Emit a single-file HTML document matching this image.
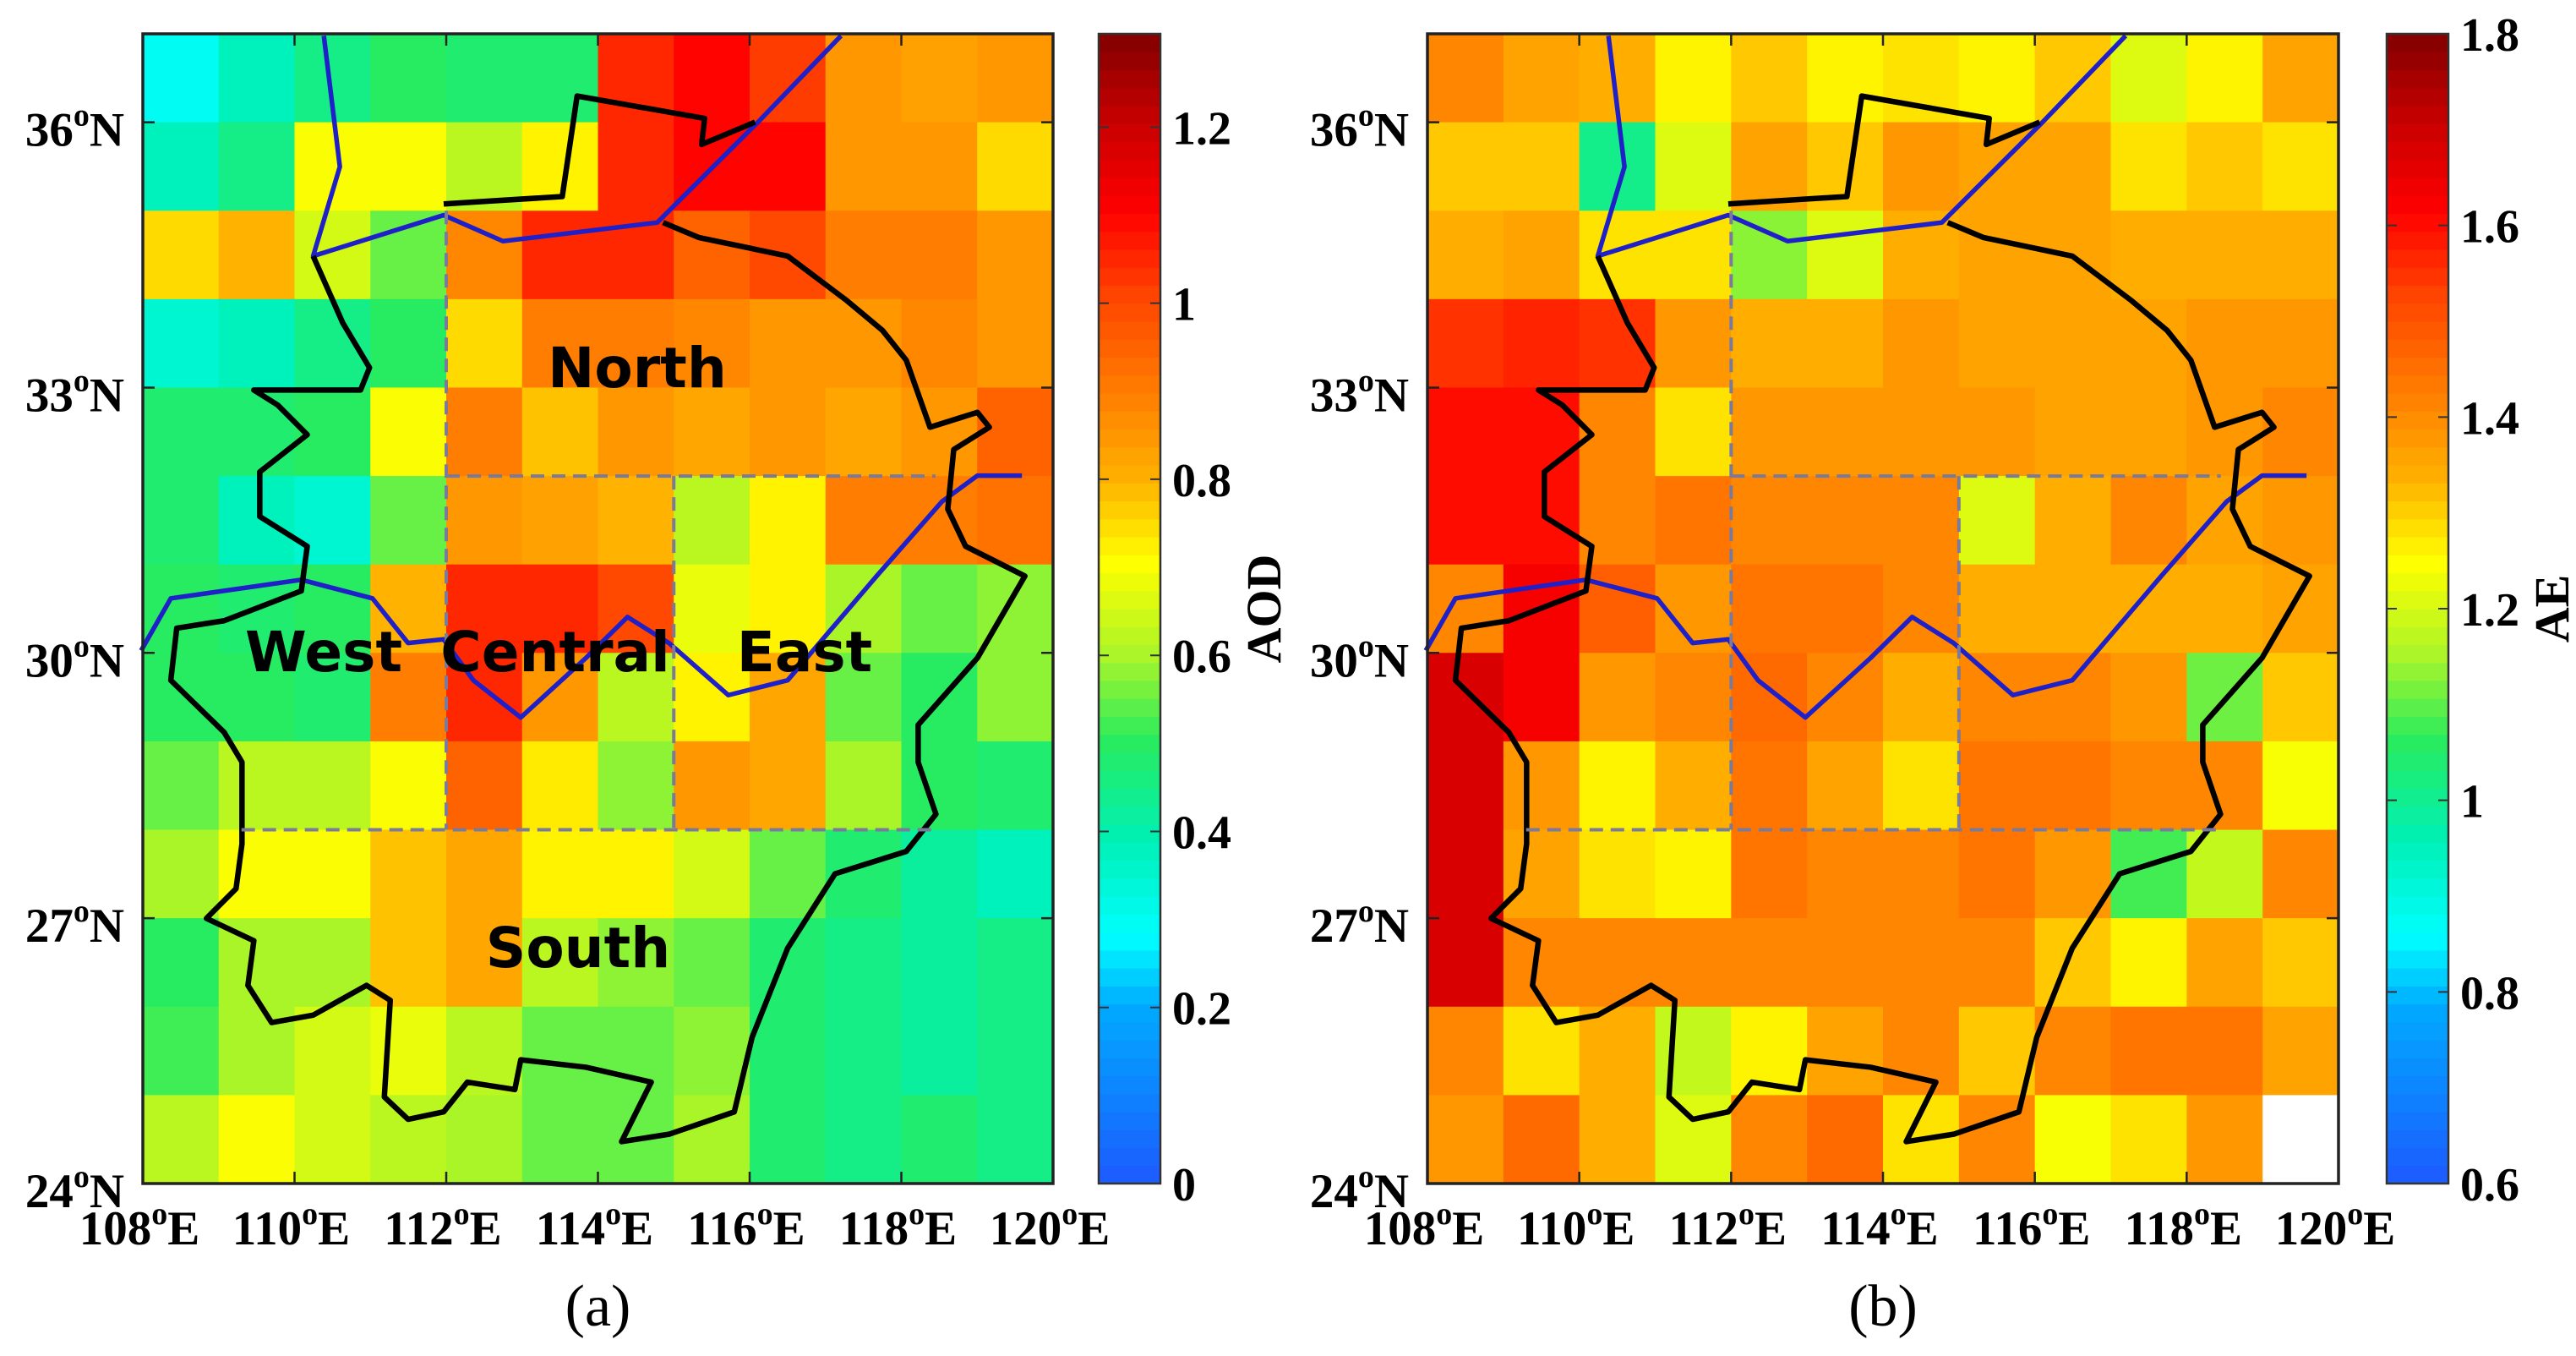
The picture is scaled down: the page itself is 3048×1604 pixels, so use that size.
<!DOCTYPE html>
<html><head><meta charset="utf-8"><style>
html,body{margin:0;padding:0;background:#fff;width:3048px;height:1604px;overflow:hidden}
svg{display:block}
</style></head><body>
<svg id="fig" width="3048" height="1604" viewBox="0 0 3048 1604" xmlns="http://www.w3.org/2000/svg"></svg>
<script>
// ---- data ----
const lons = [108,109,110,111,112,113,114,115,116,117,118,119];
const latsTop = [37,36,35,34,33,32,31,30,29,28,27,26,25];
const xTicks = [108,110,112,114,116,118,120];
const yTicks = [36,33,30,27,24];
const aodTicks = [0,0.2,0.4,0.6,0.8,1,1.2];
const aeTicks = [0.6,0.8,1,1.2,1.4,1.6,1.8];
const aodRange = [0,1.306];
const aeRange = [0.6,1.8];
const aodValues = [
[.30,.38,.45,.50,.48,.48,1.05,1.1,1.02,.85,.83,.85],
[.38,.45,.70,.70,.62,.72,1.05,1.1,1.1,.85,.85,.75],
[.75,.80,.65,.55,.88,1.05,1.05,.95,1.0,.9,.9,.85],
[.35,.38,.45,.50,.75,.90,.90,.88,.85,.85,.88,.85],
[.48,.48,.50,.70,.90,.78,.85,.82,.85,.82,.85,.95],
[.48,.38,.35,.55,.85,.83,.80,.62,.72,.90,.90,.92],
[.50,.48,.50,.80,1.05,1.05,1.0,.68,.72,.60,.55,.58],
[.50,.50,.48,.90,1.05,.85,.62,.72,.82,.55,.50,.58],
[.55,.62,.62,.70,.95,.73,.58,.85,.82,.60,.50,.48],
[.60,.70,.70,.78,.82,.72,.72,.65,.55,.48,.42,.38],
[.50,.60,.60,.78,.82,.62,.58,.55,.48,.45,.42,.45],
[.52,.60,.65,.68,.62,.55,.55,.58,.48,.45,.42,.45],
[.62,.70,.65,.62,.60,.55,.55,.60,.48,.45,.48,.45]];
const aeValues = [
[1.41,1.36,1.34,1.26,1.31,1.26,1.28,1.26,1.31,1.21,1.26,1.36],
[1.31,1.31,1.01,1.21,1.36,1.31,1.38,1.36,1.36,1.28,1.31,1.28],
[1.34,1.36,1.28,1.28,1.13,1.21,1.34,1.36,1.36,1.34,1.34,1.34],
[1.55,1.57,1.55,1.38,1.34,1.34,1.38,1.36,1.36,1.36,1.38,1.38],
[1.60,1.60,1.41,1.28,1.38,1.38,1.38,1.38,1.36,1.36,1.38,1.41],
[1.60,1.60,1.41,1.44,1.41,1.41,1.41,1.21,1.34,1.41,1.36,1.38],
[1.41,1.63,1.48,1.38,1.44,1.44,1.41,1.34,1.34,1.34,1.34,1.36],
[1.68,1.63,1.38,1.41,1.46,1.41,1.34,1.41,1.41,1.38,1.11,1.31],
[1.68,1.38,1.26,1.34,1.44,1.36,1.28,1.44,1.44,1.41,1.41,1.24],
[1.68,1.36,1.28,1.26,1.44,1.41,1.41,1.44,1.38,1.08,1.18,1.41],
[1.68,1.41,1.41,1.41,1.41,1.41,1.41,1.41,1.31,1.26,1.36,1.31],
[1.41,1.28,1.34,1.18,1.26,1.36,1.41,1.31,1.41,1.44,1.44,1.36],
[1.38,1.46,1.34,1.21,1.41,1.46,1.28,1.41,1.24,1.28,1.38,null]];

const NS='http://www.w3.org/2000/svg';
const svg=document.getElementById('fig');
function mk(tag,attrs,parent){const e=document.createElementNS(NS,tag);for(const k in attrs)e.setAttribute(k,attrs[k]);(parent||svg).appendChild(e);return e;}
const cmapF=[0,0.154,0.215,0.3,0.385,0.46,0.54,0.615,0.77,0.846,0.923,1];
const cmapC=[[30,90,255],[0,170,255],[0,255,255],[0,240,180],[40,235,95],[170,245,40],[255,255,0],[255,175,0],[255,70,0],[255,0,0],[200,0,0],[130,0,0]];
function cmap(f){f=Math.max(0,Math.min(1,f));
  for(let i=0;i<cmapF.length-1;i++){if(f<=cmapF[i+1]){const t=(f-cmapF[i])/(cmapF[i+1]-cmapF[i]);const a=cmapC[i],b=cmapC[i+1];return `rgb(${Math.round(a[0]+(b[0]-a[0])*t)},${Math.round(a[1]+(b[1]-a[1])*t)},${Math.round(a[2]+(b[2]-a[2])*t)})`;}}
  return 'rgb(130,0,0)';}

const PY0=40, PY1=1400, LAT0=24, LATSPAN=13;
function yOf(lat){return PY1-(lat-LAT0)*(PY1-PY0)/LATSPAN;}
const SER='"Liberation Serif", serif';

const boundary="M300,310 L350,400 L395,460 L380,490 L200,490 L240,510 L290,550 L210,600 L210,660 L290,700 L280,760 L150,800 L70,810 L60,880 L150,950 L180,990 L180,1100 L170,1160 L120,1200 L200,1230 L190,1290 L230,1340 L300,1330 L390,1290 L430,1310 L420,1440 L460,1470 L520,1460 L560,1420 L640,1430 L650,1390 L760,1400 L870,1420 L820,1500 L900,1490 L1010,1460 L1040,1360 L1100,1240 L1180,1140 L1300,1110 L1350,1060 L1320,990 L1320,940 L1420,850 L1500,740 L1400,700 L1370,650 L1380,570 L1440,540 L1420,520 L1340,540 L1300,450 L1260,410 L1200,370 L1100,310 L950,285 L890,265 M520,240 L720,230 L745,95 L960,125 L955,160 L1045,130";
const yellowRiver="M318,14 L345,190 L300,310 L520,255 L620,290 L880,265 L1050,130 L1190,14";
const yangtze="M10,840 L60,770 L280,745 L400,770 L460,830 L520,825 L570,880 L650,930 L760,850 L830,795 L900,830 L1000,900 L1100,880 L1250,740 L1360,640 L1420,605 L1495,605";

function panel(opts){
  const {x0,x1,values,range,ticks,cbX,label,caption,name,regions}=opts;
  const g=mk('g',{});
  
  
  const xOf=lon=>x0+(lon-108)*(x1-x0)/12;
  for(let r=0;r<values.length;r++)for(let c=0;c<values[r].length;c++){
    const v=values[r][c];
    const top=r===0?PY0:yOf(latsTop[r]);
    const rect=mk('rect',{x:xOf(lons[c]),y:top,width:xOf(lons[c]+1)-xOf(lons[c])+0.6,height:yOf(latsTop[r]-1)-top+0.6,fill:v==null?'#fff':cmap((v-range[0])/(range[1]-range[0]))},g);
    
    
  }
  const geo=mk('g',{transform:`translate(${x0-9},30) scale(0.7018,0.8803)`},g);
  
  
  const rv1=mk('path',{d:yellowRiver,fill:'none',stroke:'#2020c8','stroke-width':5.5,'stroke-linejoin':'round','vector-effect':'non-scaling-stroke'},geo);
  
  
  const rv2=mk('path',{d:yangtze,fill:'none',stroke:'#2020c8','stroke-width':5.5,'stroke-linejoin':'round','vector-effect':'non-scaling-stroke'},geo);
  
  
  const bd=mk('path',{d:boundary,fill:'none',stroke:'#000','stroke-width':6.5,'stroke-linejoin':'round','vector-effect':'non-scaling-stroke'},geo);
  
  
  const dash={fill:'none',stroke:'#7a7a9a','stroke-width':4,'stroke-dasharray':'16 9'};
  const dl=mk('path',Object.assign({d:`M${xOf(112)},${yOf(35)} L${xOf(112)},${yOf(28)} M${xOf(112)},${yOf(32)} L${xOf(118.45)},${yOf(32)} M${xOf(115)},${yOf(32)} L${xOf(115)},${yOf(28)} M${xOf(109.3)},${yOf(28)} L${xOf(118.45)},${yOf(28)}`},dash),g);
  
  
  if(regions){
    const regs=[['North',754,432],['West',383,768],['Central',657,768],['East',952,768],['South',684,1118]];
    regs.forEach(([t,x,y])=>{
      const tx=mk('text',{x:x,y:y+26,'text-anchor':'middle','font-family':'"DejaVu Sans", "Liberation Sans", sans-serif','font-weight':'bold','font-size':66},g);
      tx.textContent=t;
      
      
    });
  }
  const fr=mk('rect',{x:x0,y:PY0,width:x1-x0,height:PY1-PY0,fill:'none',stroke:'#222','stroke-width':3.5},g);
  
  
  let td='';
  xTicks.forEach(t=>{const x=xOf(t);td+=`M${x},${PY1} L${x},${PY1-14} M${x},${PY0} L${x},${PY0+14} `;});
  yTicks.forEach(t=>{const y=yOf(t);td+=`M${x0},${y} L${x0+14},${y} M${x1},${y} L${x1-14},${y} `;});
  const tk=mk('path',{d:td,stroke:'#222','stroke-width':2.5},g);
  
  
  xTicks.forEach(t=>{
    const tx=mk('text',{x:xOf(t)-4,y:1472,'text-anchor':'middle','font-family':SER,'font-weight':'bold','font-size':57},g);
    tx.innerHTML=`${t}<tspan font-size="38" dy="-24">o</tspan><tspan dy="24">E</tspan>`;
    
    
  });
  yTicks.forEach(t=>{
    const tx=mk('text',{x:x0-22,y:yOf(t)+28,'text-anchor':'end','font-family':SER,'font-weight':'bold','font-size':57},g);
    tx.innerHTML=`${t}<tspan font-size="38" dy="-24">o</tspan><tspan dy="24">N</tspan>`;
    
    
  });
  const cbW=73, N=64;
  const cb=mk('g',{},g);
  
  
  for(let i=0;i<N;i++){
    const h=(PY1-PY0)/N;
    mk('rect',{x:cbX,y:PY1-(i+1)*h,width:cbW,height:h+0.6,fill:cmap((i+0.5)/N)},cb);
  }
  mk('rect',{x:cbX,y:PY0,width:cbW,height:PY1-PY0,fill:'none',stroke:'#333','stroke-width':2.5},cb);
  const cy=v=>PY1-(v-range[0])/(range[1]-range[0])*(PY1-PY0);
  ticks.forEach(t=>{
    const y=cy(t);
    mk('path',{d:`M${cbX},${y} L${cbX+12},${y} M${cbX+cbW},${y} L${cbX+cbW-12},${y}`,stroke:'#333','stroke-width':2},cb);
    const tx=mk('text',{x:cbX+cbW+14,y:y+20,'font-family':SER,'font-weight':'bold','font-size':56},cb);
    tx.textContent=String(t);
    
    
  });
  const lb=mk('text',{x:0,y:0,transform:`translate(${cbX+cbW+142},${(PY0+PY1)/2}) rotate(-90)`,'text-anchor':'middle','font-family':SER,'font-weight':'bold','font-size':58},g);
  lb.textContent=label;
  
  
  const cp=mk('text',{x:(x0+x1)/2,y:1568,'text-anchor':'middle','font-family':SER,'font-size':70},g);
  cp.textContent=caption;
  
  
}
panel({x0:169,x1:1246,values:aodValues,range:aodRange,ticks:aodTicks,cbX:1300,label:'AOD',caption:'(a)',name:'panel-a-aod',regions:true});
panel({x0:1689,x1:2767,values:aeValues,range:aeRange,ticks:aeTicks,cbX:2824,label:'AE',caption:'(b)',name:'panel-b-ae',regions:false});
</script>
</body></html>
